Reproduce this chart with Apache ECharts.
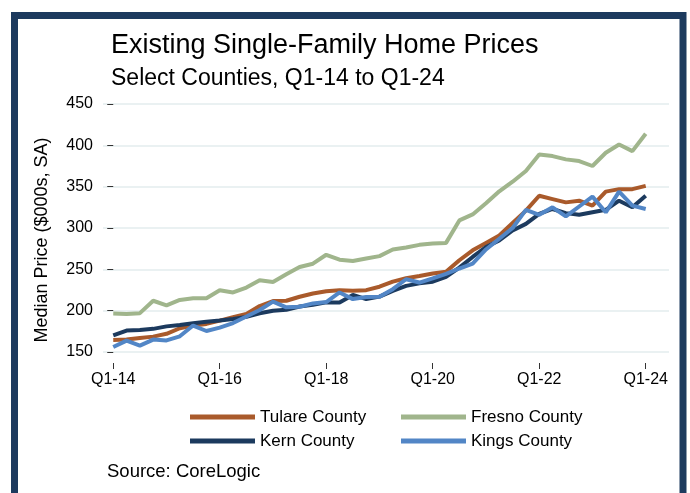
<!DOCTYPE html>
<html>
<head>
<meta charset="utf-8">
<script src="https://cdn.jsdelivr.net/npm/echarts@6/dist/echarts.min.js"></script>
<style>
  html, body { margin: 0; padding: 0; background: #fff; }
  #chart { width: 690px; height: 493px; }
</style>
</head>
<body>
<div id="chart"></div>
<script>
// quarters Q1-14 .. Q1-24
const quarters = [
  'Q1-14', 'Q2-14', 'Q3-14', 'Q4-14', 'Q1-15', 'Q2-15', 'Q3-15', 'Q4-15',
  'Q1-16', 'Q2-16', 'Q3-16', 'Q4-16', 'Q1-17', 'Q2-17', 'Q3-17', 'Q4-17',
  'Q1-18', 'Q2-18', 'Q3-18', 'Q4-18', 'Q1-19', 'Q2-19', 'Q3-19', 'Q4-19',
  'Q1-20', 'Q2-20', 'Q3-20', 'Q4-20', 'Q1-21', 'Q2-21', 'Q3-21', 'Q4-21',
  'Q1-22', 'Q2-22', 'Q3-22', 'Q4-22', 'Q1-23', 'Q2-23', 'Q3-23', 'Q4-23',
  'Q1-24'
]
const tickPositions = [0, 8, 16, 24, 32, 40]

const tulare = [
  164.5, 165, 167, 168.6, 172, 178.7, 182, 184, 188, 192, 196,
  205.6, 211.6, 212, 216.8, 220.8, 223.6, 224.8, 224, 224.8, 229,
  235.2, 239.2, 242, 245, 247, 261, 273, 282, 291, 306,
  321, 339, 335, 331, 333, 327, 344, 347, 347, 351
]
const fresno = [
  196.5, 196, 197, 212, 206.5, 213, 215, 215, 224.6, 222, 228,
  236.8, 234.8, 244, 252.8, 256.8, 267.6, 261.6, 260, 263, 266,
  274, 276.4, 279.6, 281.2, 282, 309.2, 316.4, 330, 344.4, 356,
  369, 389, 387, 383, 381, 375, 391, 401, 393, 414
]
const kern = [
  170, 176, 176.5, 178, 181, 182.7, 184.7, 186.7, 188, 190, 192.5,
  196.8, 200, 201, 205, 207, 210, 210, 219, 214, 217,
  224, 230, 233, 235, 241, 252, 265, 277, 285, 297,
  305, 317, 323, 318, 316, 319, 322, 333, 325, 339
]
const kings = [
  156, 163.8, 157.7, 165, 164, 169, 182, 175.4, 179.5, 185, 193,
  200.8, 211, 204, 204.8, 208.8, 210.4, 222, 214, 216.5, 216.8,
  226, 238, 234, 239, 244.5, 251, 257, 274, 287, 300,
  322, 316, 325, 314, 326, 338, 319, 344, 327, 323
]

const FONT = 'Liberation Sans, Arial, Helvetica, sans-serif'
const NAVY = '#1c3a5e'

const toPoints = arr => arr.map((v, i) => [i, v])

const makeLine = (name, data, color) => ({
  name,
  type: 'line',
  data: toPoints(data),
  showSymbol: false,
  symbol: 'none',
  lineStyle: { color, width: 4 },
  itemStyle: { color },
  emphasis: { disabled: true }
})

const legendStyle = {
  orient: 'vertical',
  top: 402,
  icon: 'rect',
  itemWidth: 65,
  itemHeight: 5,
  itemGap: 4,
  textStyle: { fontFamily: FONT, fontSize: 17, color: '#000', lineHeight: 20 }
}

const chart = echarts.init(document.getElementById('chart'), null, { renderer: 'canvas' })

chart.setOption({
  backgroundColor: '#fff',
  animation: false,
  textStyle: { fontFamily: FONT },
  title: [
    {
      text: 'Existing Single-Family Home Prices',
      left: 106,
      top: 27,
      textStyle: { fontFamily: FONT, fontSize: 27, fontWeight: 'normal', color: '#000' }
    },
    {
      text: 'Select Counties, Q1-14 to Q1-24',
      left: 106,
      top: 62,
      textStyle: { fontFamily: FONT, fontSize: 23, fontWeight: 'normal', color: '#000' }
    }
  ],
  legend: [
    Object.assign({ data: ['Tulare County', 'Kern County'], left: 185 }, legendStyle),
    Object.assign({ data: ['Fresno County', 'Kings County'], left: 396 }, legendStyle)
  ],
  grid: {
    left: 103,
    right: 21,
    top: 104,
    bottom: 141,
    containLabel: false
  },
  xAxis: {
    type: 'value',
    min: -0.77,
    max: 41.75,
    offset: 11,
    axisLine: { show: false },
    splitLine: { show: false },
    axisTick: {
      show: true,
      length: 6,
      customValues: tickPositions,
      lineStyle: { color: '#333', width: 1 }
    },
    axisLabel: {
      customValues: tickPositions,
      formatter: v => quarters[Math.round(v)],
      margin: 9,
      fontFamily: FONT,
      fontSize: 16,
      color: '#000'
    }
  },
  yAxis: {
    type: 'value',
    min: 150,
    max: 450,
    interval: 50,
    axisLine: { show: false },
    axisTick: { show: true, length: 6, lineStyle: { color: '#333', width: 1 } },
    axisLabel: { margin: 10, fontFamily: FONT, fontSize: 16, color: '#000' },
    splitLine: { lineStyle: { color: '#e3ecee', width: 1.5 } }
  },
  graphic: [
    {
      type: 'rect',
      silent: true,
      shape: { x: 14.5, y: 15.5, width: 668.5, height: 600 },
      style: { fill: 'none', stroke: NAVY, lineWidth: 7 }
    },
    {
      type: 'text',
      x: 42,
      y: 240,
      rotation: Math.PI / 2,
      style: {
        text: 'Median Price ($000s, SA)',
        fontFamily: FONT,
        fontSize: 18,
        fill: '#000',
        align: 'center',
        verticalAlign: 'middle'
      }
    },
    {
      type: 'text',
      left: 107,
      top: 462,
      style: {
        text: 'Source: CoreLogic',
        fontFamily: FONT,
        fontSize: 18.5,
        fill: '#000'
      }
    }
  ],
  series: [
    makeLine('Tulare County', tulare, '#a95a2b'),
    makeLine('Fresno County', fresno, '#a0b58c'),
    makeLine('Kern County', kern, '#1c3a5e'),
    makeLine('Kings County', kings, '#5286c6')
  ]
})
</script>
</body>
</html>
